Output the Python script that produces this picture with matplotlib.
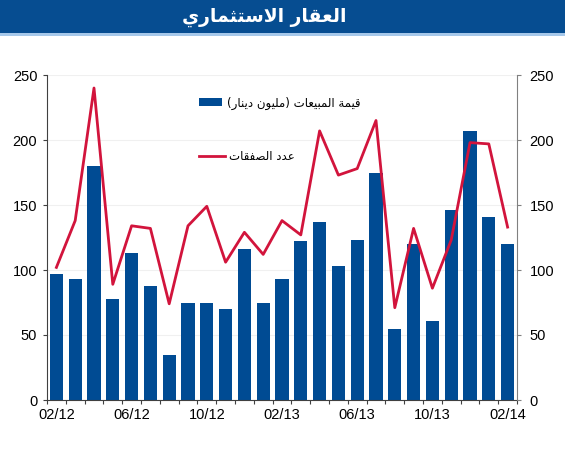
import numpy as np
import matplotlib
matplotlib.use("Agg")
import matplotlib.pyplot as plt
from matplotlib.patches import Patch, Rectangle
from matplotlib.lines import Line2D

plt.rcParams['font.family'] = ['Liberation Sans', 'DejaVu Sans']

# data
months = ['02/12', '03/12', '04/12', '05/12', '06/12', '07/12', '08/12', '09/12',
          '10/12', '11/12', '12/12', '01/13', '02/13', '03/13', '04/13', '05/13',
          '06/13', '07/13', '08/13', '09/13', '10/13', '11/13', '12/13', '01/14', '02/14']
sales = [97, 93, 180, 78, 113, 88, 35, 75, 75, 70, 116, 75, 93,
         122, 137, 103, 123, 175, 55, 120, 61, 146, 207, 141, 120]
deals = [102, 138, 240, 89, 134, 132, 74, 134, 149, 106, 129, 112, 138,
         127, 207, 173, 178, 215, 71, 132, 86, 123, 198, 197, 133]

title = 'العقار الاستثماري'
lbl_sales = 'قيمة المبيعات (مليون دينار)'
lbl_deals = 'عدد الصفقات'

# minimal arabic shaping (presentation forms, visual order)
FORMS = {
    'ا': (0xFE8D, 0xFE8E), 'د': (0xFEA9, 0xFEAA), 'ر': (0xFEAD, 0xFEAE),
    'و': (0xFEED, 0xFEEE), 'ة': (0xFE93, 0xFE94), 'لا': (0xFEFB, 0xFEFC),
    'ب': (0xFE8F, 0xFE90, 0xFE91, 0xFE92), 'ت': (0xFE95, 0xFE96, 0xFE97, 0xFE98),
    'ث': (0xFE99, 0xFE9A, 0xFE9B, 0xFE9C), 'س': (0xFEB1, 0xFEB2, 0xFEB3, 0xFEB4),
    'ص': (0xFEB9, 0xFEBA, 0xFEBB, 0xFEBC), 'ع': (0xFEC9, 0xFECA, 0xFECB, 0xFECC),
    'ف': (0xFED1, 0xFED2, 0xFED3, 0xFED4), 'ق': (0xFED5, 0xFED6, 0xFED7, 0xFED8),
    'ل': (0xFEDD, 0xFEDE, 0xFEDF, 0xFEE0), 'م': (0xFEE1, 0xFEE2, 0xFEE3, 0xFEE4),
    'ن': (0xFEE5, 0xFEE6, 0xFEE7, 0xFEE8), 'ي': (0xFEF1, 0xFEF2, 0xFEF3, 0xFEF4),
}


def shape(text):
    toks = []
    i = 0
    while i < len(text):
        if text[i] == 'ل' and i + 1 < len(text) and text[i + 1] == 'ا':
            toks.append('لا')
            i += 2
        else:
            toks.append(text[i])
            i += 1
    res = []
    for k, t in enumerate(toks):
        if t not in FORMS:
            res.append(t)
            continue
        f = FORMS[t]
        prev = toks[k - 1] if k > 0 else None
        nxt = toks[k + 1] if k + 1 < len(toks) else None
        jp = prev in FORMS and len(FORMS[prev]) == 4
        jn = len(f) == 4 and nxt in FORMS
        idx = 3 if (jp and jn) else 1 if jp else 2 if jn else 0
        res.append(chr(f[idx]))
    vis = ''.join(res)[::-1]
    return vis.translate(str.maketrans('()', ')('))


blue = '#004b93'
red = '#d2143c'

fig = plt.figure(figsize=(5.65, 4.5), dpi=100)

# title banner
fig.patches.append(Rectangle((0, 1 - 33 / 450), 1, 33 / 450, transform=fig.transFigure,
                             facecolor='#064d91', edgecolor='none', zorder=0))
fig.patches.append(Rectangle((0, 1 - 35.5 / 450), 1, 2.5 / 450, transform=fig.transFigure,
                             facecolor='#a6c8ea', edgecolor='none', zorder=0))
fig.text(264 / 565, 1 - 17 / 450, shape(title), color='white', fontsize=13.5, fontweight='bold',
         ha='center', va='center', family=['DejaVu Sans'])

ax = fig.add_axes([47 / 565, 50 / 450, 470 / 565, 325 / 450])
x = np.arange(len(months))
ax.bar(x, sales, width=0.7, color=blue, zorder=2)
ax.plot(x, deals, color=red, lw=2, zorder=3)

ax.set_xlim(-0.5, len(months) - 0.5)
ax.set_ylim(0, 250)
ax.set_yticks(range(0, 251, 50))
ax.yaxis.grid(True, color='#f0f0f0', lw=0.8, zorder=0)
ax.set_axisbelow(True)

ax.set_xticks(np.arange(-0.5, len(months), 1))
ax.set_xticklabels([])
ax.set_xticks(x[::4], minor=True)
ax.set_xticklabels(months[::4], minor=True, fontsize=10.5)
ax.tick_params(axis='x', which='major', direction='out', length=3, color='#404040')
ax.tick_params(axis='x', which='minor', length=0, pad=6)
ax.tick_params(axis='y', direction='out', length=3, color='#404040', labelsize=10.5, pad=4)

ax.spines['top'].set_visible(False)
ax.spines['right'].set_visible(False)
ax.spines['left'].set_color('#404040')
ax.spines['bottom'].set_color('#404040')

ax2 = ax.twinx()
ax2.set_ylim(0, 250)
ax2.set_yticks(range(0, 251, 50))
ax2.tick_params(axis='y', direction='out', length=3, color='#808080', labelsize=10.5, pad=6)
ax2.spines['top'].set_visible(False)
ax2.spines['left'].set_visible(False)
ax2.spines['bottom'].set_visible(False)
ax2.spines['right'].set_color('#808080')

leg1 = ax.legend([Patch(facecolor=blue)], [shape(lbl_sales)], loc='center left',
                 bbox_to_anchor=(0.3, 0.914), frameon=False,
                 handlelength=2.0, handleheight=0.7, handletextpad=0.4,
                 prop={'family': ['DejaVu Sans'], 'size': 8.5})
ax.add_artist(leg1)
ax.legend([Line2D([], [], color=red, lw=2)], [shape(lbl_deals)], loc='center left',
          bbox_to_anchor=(0.3, 0.748), frameon=False,
          handlelength=2.2, handletextpad=0.4,
          prop={'family': ['DejaVu Sans'], 'size': 8.5})

fig.savefig('out.png', dpi=100)
